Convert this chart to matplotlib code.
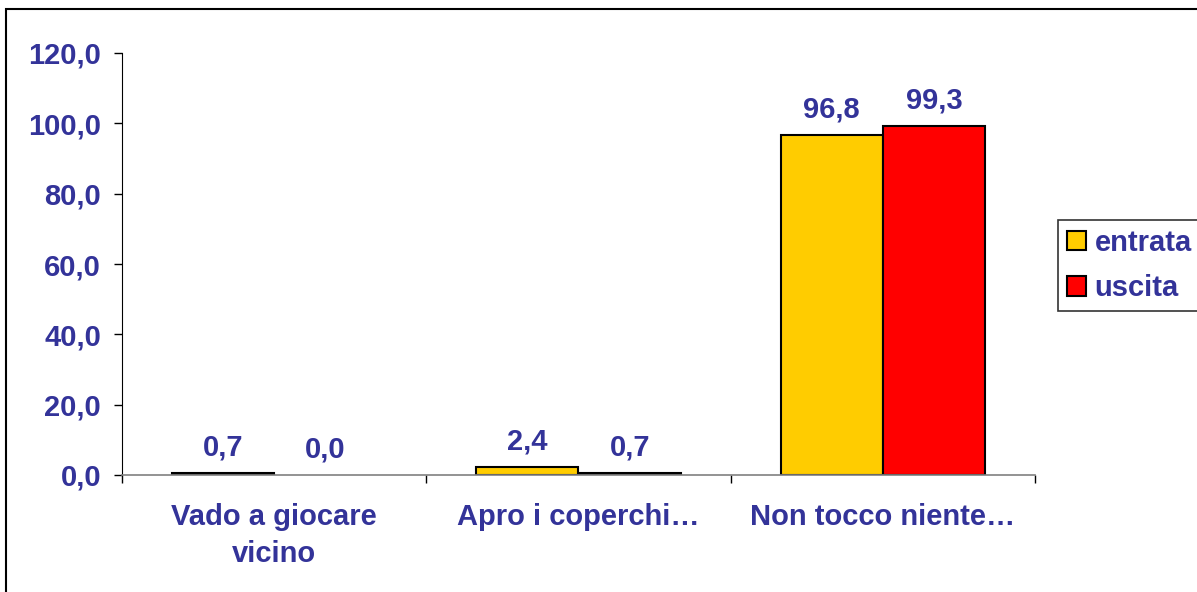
import matplotlib
matplotlib.use("Agg")
import matplotlib.pyplot as plt
import numpy as np
from matplotlib.patches import Rectangle

categories = ["Vado a giocare\nvicino", "Apro i coperchi…", "Non tocco niente…"]
series_names = ["entrata", "uscita"]
entrata = [0.7, 2.4, 96.8]
uscita = [0.0, 0.7, 99.3]
yticks = [0, 20, 40, 60, 80, 100, 120]

TXT = "#333399"
COLORS = ["#FFCC00", "#FF0000"]
plt.rcParams['font.family'] = ['Liberation Sans', 'DejaVu Sans']
plt.rcParams['font.weight'] = 'bold'
FS = 21

fig = plt.figure(figsize=(11.97, 5.92), dpi=100)
ax = fig.add_axes([122/1197, 1-475/592, (1035-122)/1197, (475-53)/592])

x = np.arange(len(categories))
w = 0.336
for i, (name, vals) in enumerate(zip(series_names, [entrata, uscita])):
    offs = (i - 0.5) * w
    ecs = ['black' if v > 0 else 'none' for v in vals]
    bars = ax.bar(x + offs, vals, width=w, color=COLORS[i], edgecolor=ecs,
                  linewidth=1.5, label=name, zorder=3)
    labels = [f"{v:.1f}".replace('.', ',') for v in vals]
    ax.bar_label(bars, labels=labels, padding=8, fontsize=FS, color=TXT,
                 fontweight='bold')

ax.set_xlim(-0.5, 2.5)
ax.set_ylim(0, 120)
ax.set_yticks(yticks)
ax.set_yticklabels([f"{v:.1f}".replace('.', ',') for v in yticks],
                   fontsize=FS, color=TXT, fontweight='bold')
ax.set_xticks(x)
ax.set_xticklabels(categories, fontsize=FS, color=TXT, fontweight='bold',
                   linespacing=1.4)
ax.set_xticks([-0.5, 0.5, 1.5, 2.5], minor=True)
ax.tick_params(axis='x', which='major', length=0, pad=20)
ax.tick_params(axis='x', which='minor', length=6, width=1, color='black')
ax.tick_params(axis='y', length=6, width=1, pad=9, color='black')

for s in ['top', 'right']:
    ax.spines[s].set_visible(False)
ax.spines['left'].set_color('black')
ax.spines['bottom'].set_color('#808080')
ax.spines['bottom'].set_linewidth(1.2)
ax.spines['bottom'].set_zorder(4)

leg = fig.legend(loc='upper left', bbox_to_anchor=(1058/1197, 1-220/592),
                 frameon=True, fancybox=False, fontsize=FS, handlelength=0.65,
                 handleheight=0.65, handletextpad=0.3, labelspacing=0.6,
                 borderpad=0.3, borderaxespad=0)
leg.get_frame().set_edgecolor('black')
leg.get_frame().set_linewidth(1.2)
for t in leg.get_texts():
    t.set_color(TXT)
    t.set_fontweight('bold')
for h in leg.legend_handles:
    h.set_edgecolor('black')
    h.set_linewidth(1.5)

fig.add_artist(Rectangle((6/1197, -0.05), 1.1, 1-9/592+0.05,
                         transform=fig.transFigure, fill=False,
                         edgecolor='black', linewidth=1.5))

fig.savefig("out.png", dpi=100)
